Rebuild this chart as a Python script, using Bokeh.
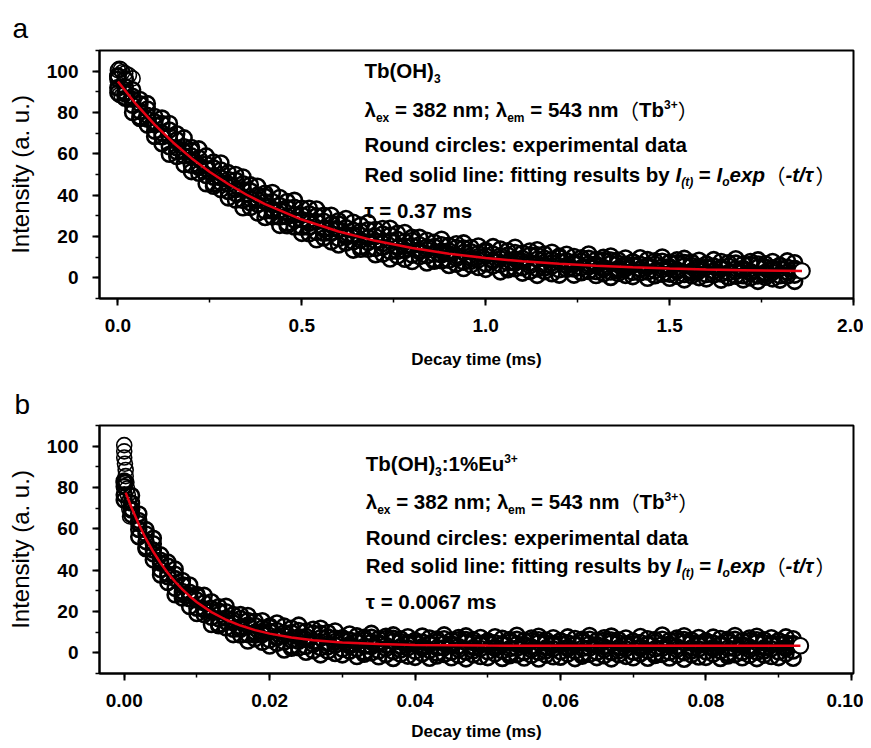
from bokeh.plotting import figure
from bokeh.models import Label, SingleIntervalTicker, NumeralTickFormatter, Range1d
from bokeh.layouts import column
from bokeh.embed import file_html
from bokeh.resources import INLINE

# ------------------------------------------------------------------ data
# Panel a: Tb(OH)3 decay (time in ms, intensity a.u.)
t_a = [0.00, 0.02, 0.04, 0.06, 0.08, 0.10, 0.12, 0.14, 0.16, 0.18,
       0.20, 0.22, 0.24, 0.26, 0.28, 0.30, 0.32, 0.34, 0.36, 0.38,
       0.40, 0.42, 0.44, 0.46, 0.48, 0.50, 0.52, 0.54, 0.56, 0.58,
       0.60, 0.62, 0.64, 0.66, 0.68, 0.70, 0.72, 0.74, 0.76, 0.78,
       0.80, 0.82, 0.84, 0.86, 0.88, 0.90, 0.92, 0.94, 0.96, 0.98,
       1.00, 1.02, 1.04, 1.06, 1.08, 1.10, 1.12, 1.14, 1.16, 1.18,
       1.20, 1.22, 1.24, 1.26, 1.28, 1.30, 1.32, 1.34, 1.36, 1.38,
       1.40, 1.42, 1.44, 1.46, 1.48, 1.50, 1.52, 1.54, 1.56, 1.58,
       1.60, 1.62, 1.64, 1.66, 1.68, 1.70, 1.72, 1.74, 1.76, 1.78,
       1.80, 1.82, 1.84, 1.86]
mid_a = [96.1, 89.7, 86.4, 80.5, 78.6, 74.1, 70.0, 68.6, 62.9, 61.1,
         59.0, 54.4, 52.9, 48.7, 48.4, 45.4, 42.7, 42.7, 38.2, 37.7,
         36.8, 33.3, 32.8, 29.6, 30.3, 28.2, 26.4, 27.2, 23.5, 23.7,
         23.5, 20.7, 20.8, 18.2, 19.5, 17.9, 16.6, 17.9, 14.7, 15.3,
         15.5, 13.1, 13.6, 11.4, 13.0, 11.7, 10.7, 12.3, 9.4, 10.3,
         10.7, 8.6, 9.3, 7.3, 9.1, 8.0, 7.2, 9.0, 6.2, 7.3,
         7.9, 5.9, 6.7, 4.9, 6.8, 5.8, 5.1, 7.0, 4.3, 5.5,
         6.2, 4.2, 5.2, 3.4, 5.4, 4.5, 3.9, 5.8, 3.2, 4.4,
         5.1, 3.3, 4.3, 2.5, 4.5, 3.7, 3.1, 5.1, 2.5, 3.8,
         4.5, 2.7, 3.7, 3.3]
upper_a = [97.7, 96.2, 91.0, 86.3, 84.3, 78.1, 77.3, 74.7, 69.7, 67.7,
           63.1, 62.4, 59.0, 56.0, 55.6, 50.9, 50.0, 48.8, 45.0, 44.3,
           40.9, 41.3, 38.9, 36.9, 37.5, 33.7, 33.7, 33.3, 30.3, 30.3,
           27.6, 28.7, 26.9, 25.5, 26.7, 23.4, 23.9, 24.0, 21.5, 21.9,
           19.6, 19.6, 18.2, 17.2, 18.7, 15.7, 16.5, 16.9, 14.7, 15.4,
           13.3, 15.1, 13.9, 13.1, 14.8, 12.0, 13.0, 13.6, 11.5, 12.4,
           10.5, 11.4, 10.3, 9.7, 11.5, 8.8, 9.9, 10.6, 8.6, 9.6,
           7.8, 9.7, 8.8, 8.2, 10.1, 7.5, 8.7, 9.4, 7.5, 8.5,
           6.7, 8.8, 7.9, 7.3, 9.2, 6.7, 7.9, 8.7, 6.8, 7.9,
           6.1, 8.2, 7.3]
upper2_a = [97.5, 92.5, 87.8, 84.2, 81.7, 75.5, 74.6, 71.5, 66.8, 63.4,
            61.6, 58.0, 55.0, 53.2, 52.2, 47.6, 47.3, 45.5, 42.1, 40.0,
            39.4, 36.9, 35.0, 34.0, 34.1, 30.4, 31.0, 30.0, 27.4, 26.0,
            26.1, 24.3, 23.0, 22.6, 23.3, 20.0, 21.2, 20.7, 18.6, 17.6,
            18.1, 16.0, 15.0, 15.1, 16.0, 13.1, 14.6, 14.4, 12.6, 11.9,
            12.6, 11.5, 10.7, 11.0, 12.2, 9.4, 11.1, 11.1, 9.4, 8.9,
            9.8, 8.3, 7.6, 8.1, 9.4, 6.7, 8.5, 8.6, 7.0, 6.6,
            7.6, 6.6, 6.1, 6.6, 8.0, 5.4, 7.3, 7.4, 5.9, 5.5,
            6.5, 5.7, 5.2, 5.7, 7.1, 4.6, 6.5, 6.7, 5.2, 4.9,
            5.9, 5.1, 4.6]
lower2_a = [92.1, 89.2, 83.5, 77.8, 76.8, 71.0, 68.2, 63.4, 61.0, 59.0,
            54.5, 53.4, 49.5, 45.5, 46.0, 41.8, 40.8, 37.5, 36.3, 35.6,
            32.3, 32.3, 29.4, 26.4, 28.0, 24.5, 24.5, 22.0, 21.6, 21.6,
            19.0, 19.7, 17.4, 15.0, 17.1, 14.2, 14.7, 12.7, 12.8, 13.2,
            11.0, 12.6, 10.7, 8.7, 11.1, 8.5, 9.3, 7.6, 8.0, 8.7,
            6.7, 8.1, 6.4, 4.6, 7.2, 4.9, 5.8, 4.3, 4.8, 5.7,
            3.9, 5.9, 4.3, 2.7, 5.4, 3.1, 4.2, 2.8, 3.4, 4.4,
            2.7, 4.2, 2.8, 1.2, 4.0, 1.8, 3.0, 1.6, 2.3, 3.3,
            1.6, 3.3, 1.9, 0.3, 3.1, 1.0, 2.2, 0.9, 1.6, 2.7,
            1.0, 2.7, 1.3]
lower_a = [89.5, 86.9, 80.0, 77.1, 73.9, 68.4, 64.9, 59.8, 58.7, 54.8,
           51.4, 50.6, 45.5, 44.3, 42.7, 38.7, 37.6, 33.9, 34.0, 31.4,
           29.2, 29.5, 25.4, 25.2, 24.6, 21.5, 21.3, 18.4, 19.3, 17.4,
           15.9, 16.9, 13.4, 13.8, 13.8, 11.2, 11.5, 9.1, 10.5, 9.0,
           7.9, 10.3, 7.2, 8.0, 8.3, 6.0, 6.6, 4.5, 6.2, 5.0,
           4.1, 5.8, 2.9, 3.9, 4.4, 2.3, 3.1, 1.2, 3.0, 2.0,
           1.3, 4.1, 1.3, 2.5, 3.1, 1.1, 2.0, 0.2, 2.1, 1.2,
           0.6, 2.4, -0.2, 1.0, 1.7, -0.2, 0.8, -1.0, 1.0, 0.1,
           -0.5, 1.5, -1.1, 0.1, 0.8, -1.0, 0.0, -1.7, 0.3, -0.5,
           -1.1, 0.9, -1.7]
t_a_early = [0.000, 0.004, 0.008, 0.012, 0.020, 0.030, 0.040, 0.000, 0.004, 0.010]
y_a_early = [100.5, 101.2, 100.8, 99.5, 99.0, 98.0, 96.5, 91.5, 88.5, 88.0]
fit_t_a = [0.0, 0.05, 0.1, 0.15, 0.2, 0.25, 0.3, 0.35, 0.4, 0.5, 0.6, 0.7,
           0.8, 0.9, 1.0, 1.1, 1.2, 1.3, 1.4, 1.5, 1.6, 1.7, 1.86]
fit_y_a = [95.0, 83.9, 74.1, 65.5, 57.9, 51.2, 45.4, 40.2, 35.7, 28.2, 22.4, 17.9,
           14.4, 11.7, 9.6, 8.0, 6.8, 5.8, 5.1, 4.5, 4.0, 3.7, 3.3]

# Panel b: Tb(OH)3:1%Eu3+ decay
t_b = [0.000, 0.001, 0.002, 0.003, 0.004, 0.005, 0.006, 0.007, 0.008, 0.009,
       0.010, 0.011, 0.012, 0.013, 0.014, 0.015, 0.016, 0.017, 0.018, 0.019,
       0.020, 0.021, 0.022, 0.023, 0.024, 0.025, 0.026, 0.027, 0.028, 0.029,
       0.030, 0.031, 0.032, 0.033, 0.034, 0.035, 0.036, 0.037, 0.038, 0.039,
       0.040, 0.041, 0.042, 0.043, 0.044, 0.045, 0.046, 0.047, 0.048, 0.049,
       0.050, 0.051, 0.052, 0.053, 0.054, 0.055, 0.056, 0.057, 0.058, 0.059,
       0.060, 0.061, 0.062, 0.063, 0.064, 0.065, 0.066, 0.067, 0.068, 0.069,
       0.070, 0.071, 0.072, 0.073, 0.074, 0.075, 0.076, 0.077, 0.078, 0.079,
       0.080, 0.081, 0.082, 0.083, 0.084, 0.085, 0.086, 0.087, 0.088, 0.089,
       0.090, 0.091, 0.092, 0.093]
mid_b = [80.5, 69.6, 62.6, 53.8, 49.7, 43.4, 38.1, 35.9, 29.7, 27.7,
         25.6, 21.3, 20.1, 16.5, 16.8, 14.5, 12.7, 13.5, 10.0, 10.4,
         10.4, 7.9, 8.3, 6.1, 7.7, 6.5, 5.6, 7.3, 4.5, 5.5,
         6.1, 4.1, 5.1, 3.2, 5.2, 4.3, 3.7, 5.6, 3.0, 4.2,
         4.9, 3.1, 4.1, 2.4, 4.5, 3.6, 3.1, 5.1, 2.6, 3.8,
         4.6, 2.8, 3.9, 2.1, 4.2, 3.4, 2.9, 4.9, 2.4, 3.7,
         4.5, 2.7, 3.8, 2.2, 4.3, 3.3, 2.9, 4.8, 2.5, 3.6,
         4.4, 2.8, 3.9, 2.0, 4.1, 3.5, 3.0, 4.9, 2.3, 3.7,
         4.6, 2.6, 3.7, 2.2, 4.2, 3.4, 2.8, 5.0, 2.4, 3.8,
         4.5, 2.7, 3.9, 3.4]
upper_b = [83.1, 76.1, 67.2, 59.6, 55.4, 47.4, 43.9, 40.5, 35.0, 32.8,
           28.2, 27.8, 24.7, 22.3, 22.5, 18.5, 18.5, 18.1, 15.3, 15.5,
           13.0, 14.4, 12.9, 11.9, 13.4, 10.5, 11.4, 11.9, 9.8, 10.6,
           7.2, 9.1, 8.2, 7.5, 9.4, 6.8, 8.0, 8.7, 6.8, 7.8,
           6.0, 8.1, 7.2, 6.7, 8.7, 6.1, 7.4, 8.2, 6.4, 7.4,
           5.7, 7.8, 7.0, 6.4, 8.5, 5.9, 7.2, 8.0, 6.2, 7.3,
           5.8, 7.7, 6.9, 6.5, 8.4, 5.9, 7.3, 8.1, 6.3, 7.2,
           5.6, 7.9, 6.8, 6.4, 8.6, 6.0, 7.1, 8.3, 6.2, 7.4,
           5.7, 7.6, 6.9, 6.5, 8.4, 5.8, 7.2, 8.0, 6.3, 7.3,
           5.9, 7.7, 6.8]
upper2_b = [82.4, 72.5, 64.0, 57.5, 52.8, 44.8, 42.0, 38.0, 32.9, 29.3,
            27.5, 24.2, 21.5, 20.2, 19.9, 15.9, 16.6, 15.6, 13.2, 12.0,
            12.3, 10.8, 9.7, 9.8, 10.8, 7.9, 9.5, 9.4, 7.7, 7.1,
            7.3, 6.2, 5.8, 6.2, 7.5, 5.0, 6.9, 7.0, 5.4, 5.0,
            6.0, 5.2, 4.7, 5.4, 6.8, 4.4, 6.3, 6.4, 5.0, 4.6,
            5.7, 4.9, 4.5, 5.1, 6.5, 4.1, 6.0, 6.3, 4.8, 4.5,
            5.8, 4.8, 4.4, 5.2, 6.6, 4.0, 6.1, 6.2, 4.9, 4.4,
            5.6, 5.0, 4.4, 5.0, 6.6, 4.2, 6.0, 6.4, 4.8, 4.6,
            5.8, 4.7, 4.4, 5.2, 6.5, 4.0, 6.0, 6.3, 4.9, 4.5,
            5.8, 4.8, 4.5]
lower2_b = [76.5, 69.1, 59.7, 51.1, 47.9, 40.3, 36.8, 31.2, 28.3, 26.2,
            21.6, 20.8, 17.2, 13.8, 15.0, 11.4, 11.4, 8.8, 8.6, 8.9,
            6.2, 7.2, 5.2, 3.2, 5.6, 3.1, 4.0, 2.4, 2.9, 3.7,
            1.8, 3.3, 1.9, 0.3, 3.1, 0.9, 2.1, 0.6, 1.4, 2.4,
            0.7, 2.2, 1.1, -0.1, 2.4, 0.3, 1.6, 0.3, 1.0, 2.1,
            0.5, 2.1, 0.9, -0.3, 2.2, 0.2, 1.5, 0.2, 0.9, 2.0,
            0.5, 2.0, 0.8, -0.4, 2.3, 0.2, 1.5, 0.2, 1.0, 2.0,
            0.3, 2.1, 0.9, -0.4, 2.2, 0.2, 1.6, 0.1, 0.9, 1.9,
            0.5, 1.9, 0.8, -0.3, 2.1, 0.2, 1.5, 0.3, 0.9, 2.0,
            0.4, 2.0, 0.9]
lower_b = [73.9, 66.8, 56.2, 50.4, 45.0, 37.7, 34.0, 28.1, 26.5, 22.4,
           19.0, 18.5, 13.7, 13.1, 12.1, 8.8, 8.6, 5.7, 6.8, 5.1,
           3.3, 4.6, 1.4, 2.2, 2.5, 0.3, 1.0, -1.0, 0.8, -0.3,
           -1.0, 0.8, -1.8, -0.7, 0.0, -1.9, -0.9, -2.7, -0.7, -1.6,
           -2.2, -0.4, -2.6, -1.5, -0.8, -2.4, -1.3, -2.9, -1.0, -1.8,
           -2.3, -0.5, -2.7, -1.4, -0.9, -2.5, -1.2, -3.0, -1.1, -1.9,
           -2.1, -0.6, -2.8, -1.6, -0.7, -2.3, -1.4, -2.9, -0.9, -1.7,
           -2.4, -0.4, -2.6, -1.3, -0.8, -2.5, -1.1, -3.1, -1.0, -2.0,
           -2.2, -0.6, -2.7, -1.5, -0.9, -2.4, -1.2, -2.8, -1.1, -1.8,
           -2.3, -0.5, -2.6]
t_b_early = [0.0000, 0.0000, 0.0000, 0.0001, 0.0002, 0.0002, 0.0003, 0.0004,
             0.0005, 0.0006, 0.0007, 0.0008]
y_b_early = [100.5, 97.5, 94.5, 91.5, 88.5, 85.5, 82.5, 79.5, 76.5, 73.0, 69.5, 66.0]
fit_t_b = [0.0002, 0.001, 0.002, 0.003, 0.004, 0.005, 0.006, 0.007, 0.008, 0.009,
           0.010, 0.012, 0.014, 0.016, 0.018, 0.020, 0.023, 0.026, 0.030, 0.035,
           0.040, 0.050, 0.060, 0.070, 0.080, 0.093]
fit_y_b = [77.5, 70.3, 62.2, 55.1, 48.9, 43.4, 38.6, 34.4, 30.7, 27.4,
           24.5, 19.7, 16.0, 13.2, 11.0, 9.3, 7.4, 6.1, 5.0, 4.3,
           3.8, 3.5, 3.4, 3.4, 3.4, 3.4]

# ------------------------------------------------------------------ text
FONT = "Liberation Sans"
CJK = "Noto Sans CJK SC"
NB = "\u00a0"
W = {' ': 278, NB: 278, '%': 889, '(': 333, ')': 333, '+': 584, '-': 333, '.': 278,
     '/': 278, ':': 333, ';': 333, '=': 584, 'E': 667, 'H': 722, 'I': 278, 'O': 778,
     'R': 722, 'T': 611, 'a': 556, 'b': 611, 'c': 556, 'd': 611, 'e': 556, 'f': 333,
     'g': 611, 'i': 278, 'l': 278, 'm': 889, 'n': 611, 'o': 611, 'p': 611, 'r': 389,
     's': 556, 't': 333, 'u': 611, 'x': 556, 'y': 556, 'λ': 556, 'τ': 520,
     '（': 1000, '）': 1000}


def tw(s, size):
    return sum(W.get(ch, 556) for ch in s) * size / 1000.0


STY = {
    'b': dict(size=20.5, style='bold', font=FONT, dy=0),
    'bi': dict(size=20.5, style='bold italic', font=FONT, dy=0),
    's': dict(size=12, style='bold', font=FONT, dy=-8),
    'si': dict(size=12, style='bold italic', font=FONT, dy=-7),
    'S': dict(size=12, style='bold', font=FONT, dy=5),
    'c': dict(size=20.5, style='normal', font=CJK, dy=0),
}

LINE_FIT = [("Red solid line: fitting results by ", 'b'), ("I", 'bi'), ("(t)", 'si'),
            (" = ", 'b'), ("I", 'bi'), ("o", 'si'), ("exp", 'bi'), ("（", 'c'),
            ("-t/τ", 'bi'), ("）", 'c')]
LINE_LAMBDA = [("λ", 'b'), ("ex", 's'), (" = 382 nm; λ", 'b'), ("em", 's'),
               (" = 543 nm", 'b'), ("（", 'c'), ("Tb", 'b'), ("3+", 'S'), ("）", 'c')]
TEXT_A = [[("Tb(OH)", 'b'), ("3", 's')],
          LINE_LAMBDA,
          [("Round circles: experimental data", 'b')],
          LINE_FIT,
          [("τ = 0.37 ms", 'b')]]
TEXT_B = [[("Tb(OH)", 'b'), ("3", 's'), (":1%Eu", 'b'), ("3+", 'S')],
          LINE_LAMBDA,
          [("Round circles: experimental data", 'b')],
          LINE_FIT,
          [("τ = 0.0067 ms", 'b')]]


def make_conv(fl, ft, fw, fh, xr, yr):
    def conv(px, py):
        x = xr[0] + (px - fl) / fw * (xr[1] - xr[0])
        y = yr[1] - (py - ft) / fh * (yr[1] - yr[0])
        return x, y
    return conv


def add_text(p, conv, px, py, segs):
    x = px
    for txt, kind in segs:
        st = STY[kind]
        txt = txt.replace(" ", NB)
        dx, dy = conv(x, py - st['dy'])
        p.add_layout(Label(x=dx, y=dy, text=txt, text_font=st['font'],
                           text_font_size="%spx" % st['size'],
                           text_font_style=st['style'], text_baseline='alphabetic',
                           text_align='left', text_color='black'))
        x += tw(txt, st['size'])


def make_panel(letter, width, height, bl, br, bt, bb, xr, yr, xint, xfmt,
               xlabel_standoff, title_standoff):
    p = figure(width=width, height=height, x_range=Range1d(*xr), y_range=Range1d(*yr),
               output_backend="svg", toolbar_location=None,
               min_border_left=bl, min_border_right=br, min_border_top=bt,
               min_border_bottom=bb)
    p.title.text = letter
    p.title.text_font = FONT
    p.title.text_font_size = "28px"
    p.title.text_font_style = "normal"
    p.title.text_color = "black"
    p.title.align = "left"
    p.title.offset = 12 - bl
    p.title.standoff = title_standoff
    p.title.text_line_height = 1.0
    p.grid.visible = False
    p.outline_line_color = "black"
    p.outline_line_width = 2
    p.outline_line_alpha = 1.0
    p.background_fill_color = "white"
    p.border_fill_color = "white"
    p.xaxis.ticker = SingleIntervalTicker(interval=xint, num_minor_ticks=2)
    p.xaxis.formatter = NumeralTickFormatter(format=xfmt)
    p.yaxis.ticker = SingleIntervalTicker(interval=20, num_minor_ticks=2)
    p.yaxis.formatter = NumeralTickFormatter(format="0")
    for ax in (p.xaxis[0], p.yaxis[0]):
        ax.axis_line_width = 2
        ax.axis_line_color = "black"
        ax.major_tick_line_width = 2
        ax.minor_tick_line_width = 1.5
        ax.major_tick_line_color = "black"
        ax.minor_tick_line_color = "black"
        ax.major_tick_in = 0
        ax.major_tick_out = 7
        ax.minor_tick_in = 0
        ax.minor_tick_out = 4
        ax.major_label_text_font = FONT
        ax.major_label_text_font_size = "19px"
        ax.major_label_text_font_style = "bold"
        ax.major_label_text_color = "black"
        ax.axis_label_text_color = "black"
        ax.axis_label_text_font = FONT
    p.yaxis.major_label_standoff = 14
    p.yaxis.axis_label = "Intensity (a. u.)"
    p.yaxis.axis_label_text_font_size = "24px"
    p.yaxis.axis_label_text_font_style = "normal"
    p.yaxis.axis_label_standoff = 10
    p.xaxis.major_label_standoff = 13
    p.xaxis.axis_label = "Decay time (ms)"
    p.xaxis.axis_label_text_font_size = "17px"
    p.xaxis.axis_label_text_font_style = "bold"
    p.xaxis.axis_label_standoff = xlabel_standoff
    return p


def draw_data(p, t, rows, mid, t_early, y_early, fit_t, fit_y):
    style = dict(size=15, line_color="black", line_width=2.6, fill_color=None)
    for r in rows:
        p.scatter(t[:len(r)], r, marker="circle", **style)
    p.scatter(t, mid, marker="circle", **style)
    p.scatter(t_early, y_early, marker="circle", size=15, line_color="black",
              line_width=1.6, fill_color=None)
    p.scatter(t[-1:], mid[-1:], marker="circle", size=15, line_color="black",
              line_width=1.5, fill_color="white")
    p.line(fit_t, fit_y, line_color="#e60012", line_width=2.5)


YR = (-10, 110)
SHIFT = 8  # label y is rendered about this much lower than asked

# ---------------- panel a
XR_A = (-0.05, 2.0)
pa = make_panel("a", 863, 380, 99, 10, 50, 82, XR_A, YR, 0.5, "0.0", 15, 14)
draw_data(pa, t_a, [upper_a, lower_a, upper2_a, lower2_a], mid_a,
          t_a_early, y_a_early, fit_t_a, fit_y_a)
conv_a = make_conv(99, 50, 754, 248, XR_A, YR)
for segs, py in zip(TEXT_A, [78, 117, 152, 182, 218]):
    add_text(pa, conv_a, 364, py - SHIFT, segs)

# ---------------- panel b  (page y offset 380)
XR_B = (-0.0034, 0.1003)
pb = make_panel("b", 863, 368, 97, 10, 45, 75, XR_B, YR, 0.02, "0.00", 12, 11)
draw_data(pb, t_b, [upper_b, lower_b, upper2_b, lower2_b], mid_b,
          t_b_early, y_b_early, fit_t_b, fit_y_b)
conv_b = make_conv(97, 45, 756, 248, XR_B, YR)
for segs, py in zip(TEXT_B, [471, 509, 545, 573, 609]):
    add_text(pb, conv_b, 364, py - 380 - SHIFT, segs)

layout = column(pa, pb)
open("out.html", "w").write(file_html(layout, INLINE, title="Decay curves"))
